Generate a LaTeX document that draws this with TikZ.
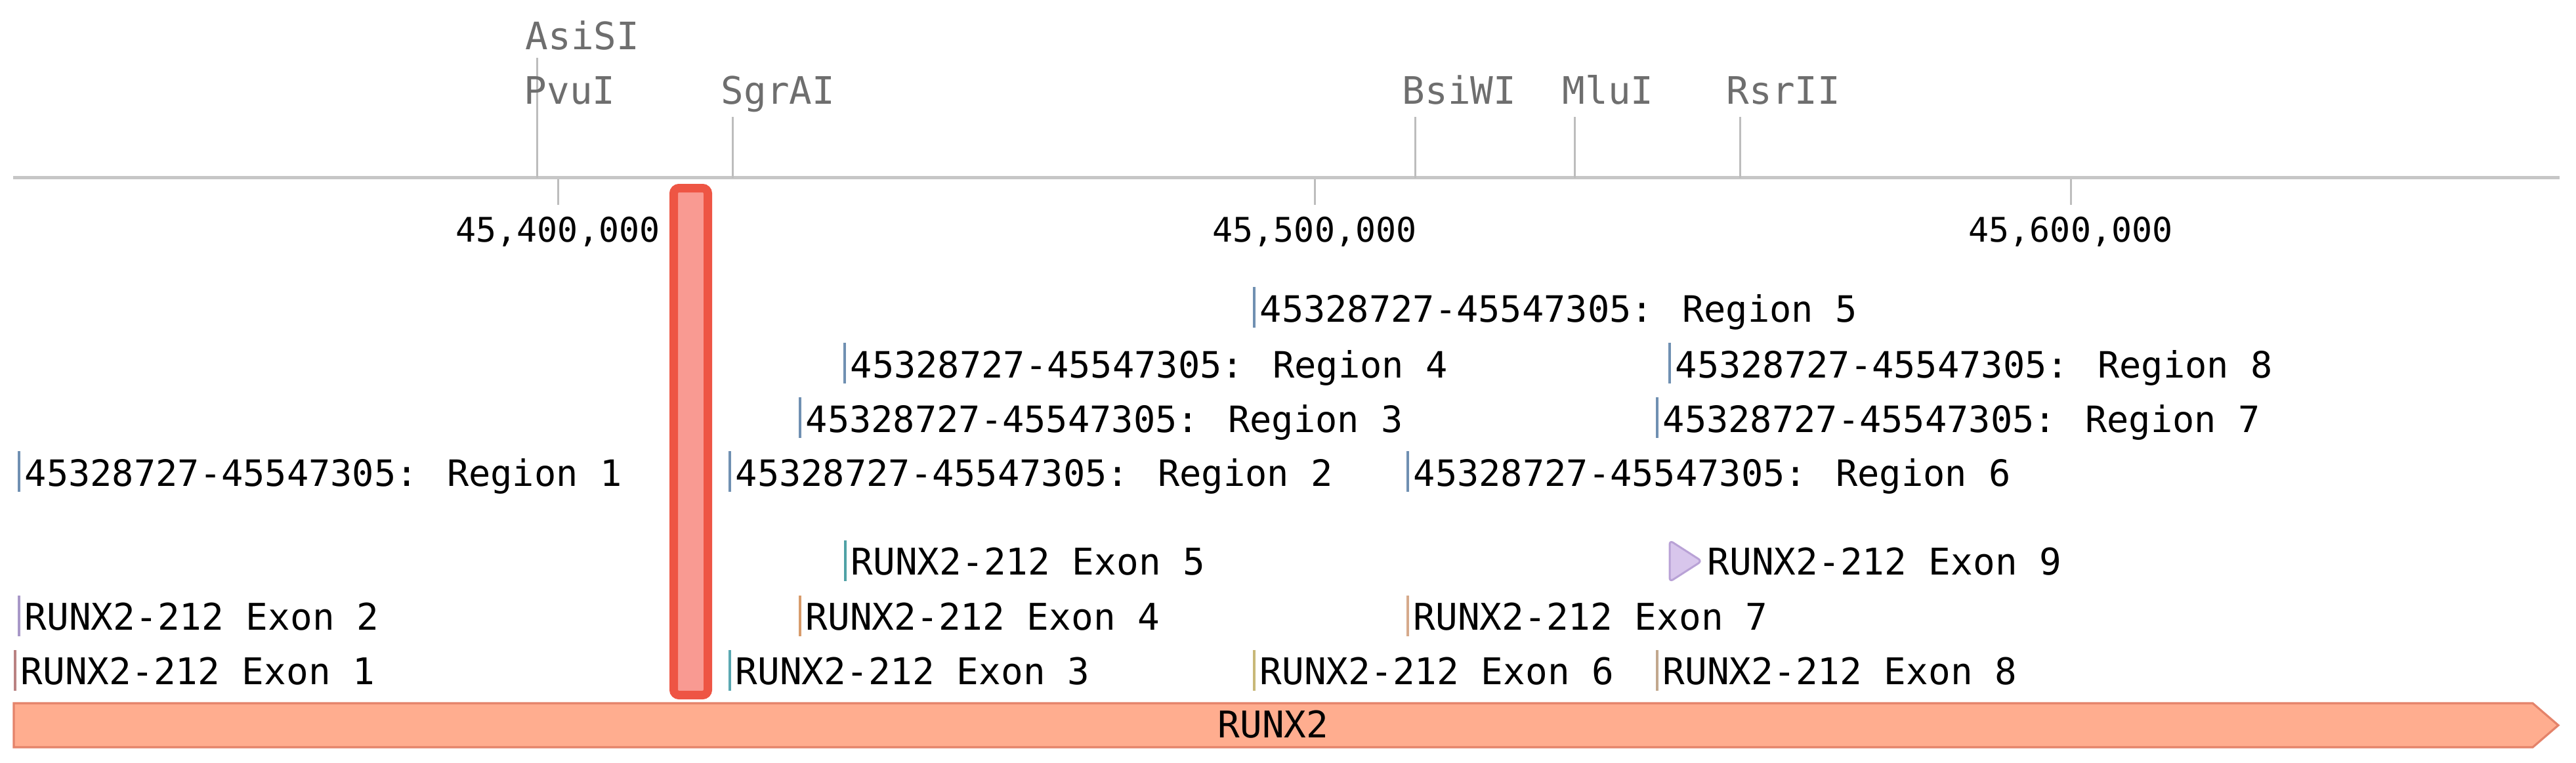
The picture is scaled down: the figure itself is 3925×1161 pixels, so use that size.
\documentclass[tikz,border=0pt]{standalone}
\usepackage{fontspec}
\newfontfamily\monof{DejaVu Sans Mono}
\definecolor{enzgray}{HTML}{6E6E6E}
\definecolor{rulegray}{HTML}{C6C6C6}
\definecolor{tickgray}{HTML}{BDBDBD}
\definecolor{regblue}{HTML}{7090B2}
\definecolor{exA}{HTML}{B98282}
\definecolor{exB}{HTML}{A898C8}
\definecolor{exC}{HTML}{5AA8B2}
\definecolor{exD}{HTML}{D89C6C}
\definecolor{exE}{HTML}{50A2A6}
\definecolor{exF}{HTML}{C8B878}
\definecolor{exG}{HTML}{D6AA8C}
\definecolor{exH}{HTML}{C2A88E}
\definecolor{exIfill}{HTML}{D8C6EC}
\definecolor{exIdraw}{HTML}{B9A2D6}
\definecolor{hlred}{HTML}{EE5544}
\definecolor{hlpink}{HTML}{F99A92}
\definecolor{barfill}{HTML}{FFAD8F}
\definecolor{barborder}{HTML}{E4836A}
\tikzset{
  enz/.style={font=\monof\fontsize{14.4pt}{17pt}\selectfont, text=enzgray, inner sep=0pt, anchor=base west},
  lbl/.style={font=\monof\fontsize{14pt}{17pt}\selectfont, text=black, inner sep=0pt, anchor=base west},
  reglbl/.style={font=\monof\fontsize{13.82pt}{17pt}\selectfont, text=black, inner sep=0pt, anchor=base west},
  num/.style={font=\monof\fontsize{12.9pt}{15pt}\selectfont, text=black, inner sep=0pt, anchor=base},
  enztick/.style={draw=tickgray, line width=0.75pt},
  feat/.style={line width=1pt},
}
\begin{document}
\begin{tikzpicture}[x=0.25pt,y=-0.25pt]
\useasboundingbox (0,0) rectangle (3925,1161);
% ruler
\coordinate (rl) at (20,270.5);
\coordinate (rr) at (3900,270.5);
\draw[draw=rulegray, line width=1.25pt] (rl) -- (rr);
% scale ticks and numbers
\foreach \x/\t/\n in {850/45{,}400{,}000/t1, 2003/45{,}500{,}000/t2, 3155/45{,}600{,}000/t3}{
  \coordinate (\n a) at (\x,273);
  \coordinate (\n b) at (\x,312);
  \draw[enztick] (\n a) -- (\n b);
  \node[num] (\n) at (\x,368) {\t};
}
% enzyme sites
\coordinate (asitop) at (818,88);
\coordinate (sgrtop) at (1116,178);
\coordinate (bsitop) at (2156,178);
\coordinate (mlutop) at (2399,178);
\coordinate (rsrtop) at (2651,178);
\foreach \c in {asitop,sgrtop,bsitop,mlutop,rsrtop}{
  \draw[enztick] (\c) -- (\c |- rl);
}
\node[enz] (asisi) at (800,75) {AsiSI};
\node[enz] (pvui) at (798,158) {PvuI};
\node[enz] (sgrai) at (1098,158) {SgrAI};
\node[enz] (bsiwi) at (2136,158) {BsiWI};
\node[enz] (mlui) at (2380,158) {MluI};
\node[enz] (rsrii) at (2630,158) {RsrII};
% regions
\foreach \x/\y/\k in {29/687/1, 1112/687/2, 1219/605/3, 1287/522/4, 1911/437/5, 2145/687/6, 2525/605/7, 2544/522/8}{
  \draw[feat, draw=regblue] (\x,\y) -- (\x,\y+62);
  \node[reglbl] (reg\k) at (\x+8,\y+53) {45328727-45547305: Region \k};
}
% exons
\foreach \x/\y/\k/\c in {23/990/1/exA, 29/907/2/exB, 1112/990/3/exC, 1219/907/4/exD, 1288/823/5/exE, 1911/990/6/exF, 2145/907/7/exG, 2525/990/8/exH}{
  \draw[feat, draw=\c] (\x,\y) -- (\x,\y+62);
  \node[lbl] (ex\k) at (\x+8,\y+52) {RUNX2-212 Exon \k};
}
\draw[fill=exIfill, draw=exIdraw, line width=0.75pt, rounded corners=1.5pt] (2544,823) -- (2593,854.5) -- (2544,886) -- cycle;
\node[lbl] (ex9) at (2601,875) {RUNX2-212 Exon 9};
% highlight
\draw[draw=hlred, fill=hlpink, line width=3.25pt, rounded corners=2pt] (1026.5,286.5) rectangle (1078.5,1058.5);
% gene bar
\draw[draw=barborder, fill=barfill, line width=0.8pt] (21,1071) -- (3859,1071) -- (3898,1104.5) -- (3859,1138) -- (21,1138) -- cycle;
\node[lbl, anchor=base] (gene) at (1940,1123) {RUNX2};
\end{tikzpicture}
\end{document}
